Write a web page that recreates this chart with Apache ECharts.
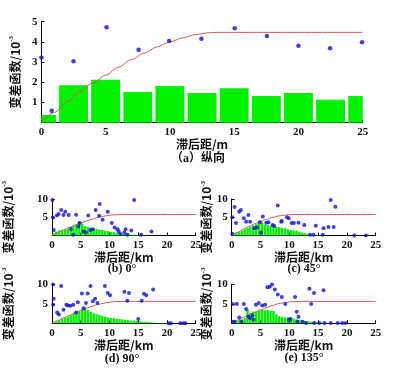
<!DOCTYPE html>
<html><head><meta charset="utf-8">
<script src="https://cdn.jsdelivr.net/npm/echarts@6/dist/echarts.min.js"></script>
<style>html,body{margin:0;padding:0;background:#fff}#c{width:405px;height:381px}</style>
</head><body><div id="c"></div>
<script>
// (a) 纵向
const aBarX = [0, 2.5, 5, 7.5, 10, 12.5, 15, 17.5, 20, 22.5, 25];
const aBarY = [0.38, 1.85, 2.13, 1.52, 1.82, 1.47, 1.70, 1.32, 1.47, 1.14, 1.32];
const aPtX = [0, 0.8, 2.5, 5.07, 7.56, 9.94, 12.45, 15.04, 17.55, 20.0, 22.46, 24.95];
const aPtY = [3.23, 0.59, 3.04, 4.72, 3.61, 4.04, 4.16, 4.67, 4.29, 3.81, 3.68, 3.98];
const aCurveX = [0, 1, 2, 3, 4, 5, 6, 7, 8, 9, 10, 11, 12, 13, 13.5, 25];
const aCurveY = [0.05, 0.5, 1.05, 1.55, 1.97, 2.35, 2.75, 3.12, 3.45, 3.75, 4.0, 4.2, 4.36, 4.45, 4.47, 4.47];

// histogram bin centres for small charts
const histX = [0.25,0.75,1.25,1.75,2.25,2.75,3.25,3.75,4.25,4.75,5.25,5.75,6.25,6.75,7.25,7.75,8.25,8.75,9.25,9.75,
  10.25,10.75,11.25,11.75,12.25,12.75,13.25,13.75,14.25,14.75,15.25,15.75,16.25,16.75,17.25,17.75,18.25,18.75,19.25,19.75];

// (b) 0°
const bHist = [0.6,1.1,1.4,1.5,1.6,1.9,2.2,2.6,3.1,3.8,3.3,2.6,2.3,2.1,2.0,1.8,1.6,1.5,1.3,1.2,
  1.0,0.9,0.7,0.6,0.5,0.45,0.35,0.25,0.2,0.15,0.1,0.1,0.05,0.05,0.05,0,0,0,0,0];
const bPtX = [0.06,0.17,0.3,0.86,1.15,1.6,2.0,2.3,2.9,3.3,3.7,4.2,4.6,4.8,5.5,5.9,6.3,6.7,7.1,7.6,8.2,8.3,8.8,9.7,10.4,10.9,11.4,11.6,11.9,12.6,12.8,13.1,13.8,14.3,15.5,17.3];
const bPtY = [9.7,4.9,1.5,5.5,5.9,7.0,5.6,6.5,5.6,1.8,0.2,5.7,2.5,3.4,1.1,0.8,5.5,1.5,1.7,7.0,5.4,8.6,4.3,6.5,3.4,2.2,1.7,1.1,0.4,0.8,1.7,0.2,1.4,9.7,0.2,1.1];
const bCurveX = [0,1,2,3,4,5,6,7,8,9,10,11,12,25];
const bCurveY = [0,0.75,1.5,2.2,2.85,3.45,4.0,4.5,4.95,5.3,5.55,5.7,5.75,5.75];

// (c) 45°
const cHist = [0.2,0.6,1.0,1.3,1.7,2.1,2.4,2.8,3.1,3.5,3.6,3.0,2.9,2.7,2.5,2.4,2.3,2.1,2.0,1.7,
  1.5,1.4,1.3,1.0,0.8,0.6,0.45,0.3,0.2,0.15,0.1,0.05,0,0,0,0,0,0,0,0];
const cPtX = [0.1,0.1,0.5,0.75,1.3,1.6,2.1,2.5,2.9,3.2,3.9,4.4,4.9,5.1,5.4,6.0,6.4,7.1,7.4,8.0,8.6,8.7,9.6,9.9,10.4,10.8,11.6,12.6,13.6,14.2,14.6,15.8,15.95,16.8,17.2,17.7,18.0,21.3,23.3];
const cPtY = [5.0,0.5,7.8,3.4,6.5,7.0,4.7,3.8,5.6,3.8,2.0,2.2,3.6,0.8,5.2,3.5,3.6,2.9,2.6,8.2,3.8,4.0,5.0,4.7,3.4,3.4,3.5,2.9,0.2,0.2,2.7,0.2,2.0,2.3,9.7,2.3,7.9,0,0];
const cCurveX = [0,1,2,3,4,5,6,7,8,9,10,11,25];
const cCurveY = [0,0.85,1.7,2.5,3.2,3.85,4.4,4.9,5.3,5.55,5.7,5.75,5.75];

// (d) 90°
const dHist = [0.2,0.5,0.8,1.1,1.4,1.7,2.1,2.4,2.7,3.1,3.6,4.0,3.4,3.0,2.6,2.4,2.1,1.9,1.7,1.5,
  1.4,1.3,1.2,1.1,1.0,0.9,0.8,0.7,0.7,0.6,0.5,0.4,0.35,0.3,0.25,0.2,0.15,0.1,0.1,0.05];
const dPtX = [0.2,0.3,0.2,0.9,1.2,1.6,2.0,2.5,2.8,3.2,3.7,4.2,4.5,5.2,5.5,5.9,6.2,6.7,7.1,7.5,7.9,9.2,9.7,10.1,12.6,13.1,13.4,15.0,15.6,16.0,16.4,17.6,20.3,20.7,22.3,22.8,23.2];
const dPtY = [10.0,6.3,4.8,2.8,2.3,9.6,3.5,4.8,4.6,4.5,4.8,2.8,5.4,7.7,3.9,5.2,7.7,9.6,5.7,6.3,5.2,9.6,7.8,7.2,8.1,5.8,7.8,1.1,5.8,7.6,7.2,8.7,0,0,0,0,0];
const dCurveX = [0,1,2,3,4,5,6,7,8,9,10,11,12,25];
const dCurveY = [0,0.7,1.4,2.1,2.7,3.3,3.9,4.4,4.85,5.2,5.45,5.6,5.65,5.65];

// (e) 135°
const eHist = [0.2,0.5,0.8,1.0,1.3,3.6,2.6,3.0,3.0,3.3,3.5,3.4,3.4,3.3,3.2,2.3,1.8,1.6,1.5,1.5,
  1.4,1.2,1.0,0.9,0.8,0.6,0.5,0.4,0.35,0.3,0.2,0.15,0.1,0.1,0.05,0,0,0,0,0];
const ePtX = [0.2,0.9,0.2,0.5,1.3,1.7,2.1,2.5,2.9,3.2,3.6,3.8,4.2,4.7,5.3,5.8,6.2,6.6,7.0,7.5,8.0,8.7,9.3,9.9,10.2,11.0,11.3,11.4,11.6,12.3,12.9,13.5,13.8,14.3,14.3,15.2,15.95,16.1,17.2,18.4,19.2,19.8];
const ePtY = [5.0,5.0,0.4,0.4,1.5,0.4,5.0,3.7,1.7,1.3,2.0,0.9,4.8,5.2,4.6,4.8,9.3,9.4,10.0,8.7,7.4,6.8,5.0,0.9,1.1,6.8,3.0,0.4,1.7,0.4,0.1,8.9,5.0,7.8,0.1,0.1,8.5,0.1,0.1,0.1,0.1,0.1];
const eCurveX = [0,1,2,3,4,5,6,7,8,9,10,11,12,25];
const eCurveY = [0,0.75,1.5,2.2,2.85,3.45,4.0,4.55,5.0,5.3,5.5,5.62,5.65,5.65];

const xTicks = [0, 5, 10, 15, 20, 25];

const zip = (xs, ys) => xs.map((x, i) => [x, ys[i]]);
const GREEN = '#00f000', BLUE = '#1414c8', RED = '#cc5a5a';
const numFont = {fontFamily: 'Liberation Serif', fontWeight: 'bold', color: '#111', fontSize: 11};
const cjk = 'Noto Sans CJK SC';

const grids = [
  {left: 40.7, top: 21.7, width: 322, height: 101},
  {left: 50.7, top: 199, width: 145, height: 36.5},
  {left: 231.7, top: 199, width: 144, height: 36.5},
  {left: 50.7, top: 284.5, width: 145, height: 38.8},
  {left: 231.7, top: 284.5, width: 144, height: 38.8}
];

const axisLine = {show: true, onZero: false, lineStyle: {color: '#000', width: 1}};
const axisTick = {show: true, inside: true, length: 3, lineStyle: {color: '#000'}};

const xAxes = grids.map((g, i) => ({
  type: 'value', gridIndex: i, min: 0, max: 25, interval: 5,
  axisLine, axisTick, splitLine: {show: false},
  axisLabel: Object.assign({margin: 4, formatter: v => xTicks.includes(v) ? String(v) : ''}, numFont),
  name: i === 0 ? '滞后距/m' : '滞后距/km', nameLocation: 'middle', nameGap: i === 0 ? 16 : 15,
  nameTextStyle: {fontFamily: cjk, fontSize: 12, color: '#111', fontWeight: 'bold'}
}));

const yGaps = [18, 37, 14, 37, 14];
const yAxes = grids.map((g, i) => ({
  type: 'value', gridIndex: i, min: 0, max: i === 0 ? 5 : 10, interval: i === 0 ? 1 : 5,
  axisLine, axisTick, splitLine: {show: false},
  axisLabel: Object.assign({margin: 4, showMinLabel: false}, numFont),
  name: '{m|变差函数/10}{s|-3}', nameLocation: 'middle', nameRotate: 90, nameGap: yGaps[i],
  nameTextStyle: {
    rich: {
      m: {fontFamily: cjk, fontSize: 12, color: '#111', fontWeight: 'bold'},
      s: {fontFamily: 'Liberation Serif', fontSize: 7, color: '#111', fontWeight: 'bold', verticalAlign: 'top', lineHeight: 14}
    }
  }
}));

const barUnits = [2.25, 0.42, 0.42, 0.42, 0.42];
function makeBarRender(w) {
  return function (params, api) {
    const x = api.value(0), y = api.value(1);
    const p0 = api.coord([x - w / 2, y]);
    const p1 = api.coord([x + w / 2, 0]);
    const cs = params.coordSys;
    const r = echarts.graphic.clipRectByRect(
      {x: p0[0], y: p0[1], width: p1[0] - p0[0], height: p1[1] - p0[1]},
      {x: cs.x, y: cs.y, width: cs.width, height: cs.height});
    return r && {type: 'rect', shape: r, style: {fill: GREEN}};
  };
}

const sets = [
  {bars: zip(aBarX, aBarY), pts: zip(aPtX, aPtY), curve: zip(aCurveX, aCurveY)},
  {bars: zip(histX, bHist), pts: zip(bPtX, bPtY), curve: zip(bCurveX, bCurveY)},
  {bars: zip(histX, cHist), pts: zip(cPtX, cPtY), curve: zip(cCurveX, cCurveY)},
  {bars: zip(histX, dHist), pts: zip(dPtX, dPtY), curve: zip(dCurveX, dCurveY)},
  {bars: zip(histX, eHist), pts: zip(ePtX, ePtY), curve: zip(eCurveX, eCurveY)}
];

const series = [];
sets.forEach((s, i) => {
  series.push({type: 'custom', xAxisIndex: i, yAxisIndex: i, data: s.bars, renderItem: makeBarRender(barUnits[i]),
    silent: true, animation: false, z: 2});
  series.push({type: 'line', xAxisIndex: i, yAxisIndex: i, data: s.curve, showSymbol: false, symbol: 'none',
    smooth: 0.3, smoothMonotone: 'x', lineStyle: {color: RED, width: 1}, animation: false, z: 3});
  series.push({type: 'scatter', xAxisIndex: i, yAxisIndex: i, data: s.pts, symbolSize: i === 0 ? 4.5 : 4,
    itemStyle: {color: BLUE}, animation: false, z: 4});
});

const titles = [
  {text: '（a）纵向', left: 198, top: 153, size: 12},
  {text: '(b) 0°', left: 122, top: 263, size: 12},
  {text: '(c) 45°', left: 304, top: 263, size: 12},
  {text: '(d) 90°', left: 122, top: 353, size: 12},
  {text: '(e) 135°', left: 304, top: 352, size: 12}
].map(t => ({text: t.text, left: t.left, top: t.top, textAlign: 'center', padding: 0,
  textStyle: {fontFamily: 'Liberation Serif, ' + cjk, fontSize: t.size, fontWeight: 'bold', color: '#111'}}));

const chart = echarts.init(document.getElementById('c'), null, {renderer: 'canvas'});
chart.setOption({
  backgroundColor: '#fff', animation: false,
  title: titles, grid: grids, xAxis: xAxes, yAxis: yAxes, series
});
</script></body></html>
